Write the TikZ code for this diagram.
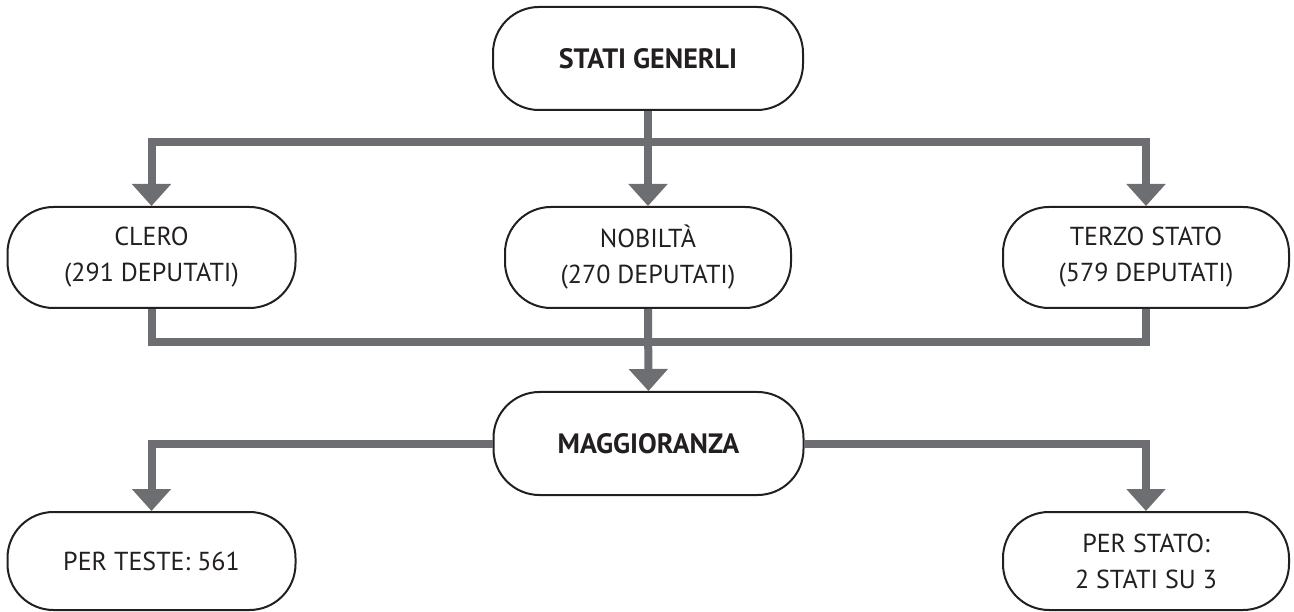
\documentclass[tikz,border=0pt]{standalone}
\usepackage{fontspec}
\setmainfont{PT Sans}
\usetikzlibrary{arrows.meta}
\definecolor{conn}{HTML}{6D6E71}
\definecolor{ink}{HTML}{231F20}
\begin{document}
\begin{tikzpicture}[x=1pt,y=-1pt,
  box/.style={draw=ink,line width=2pt,rounded corners=46pt,fill=white,
    minimum width=288pt,minimum height=101pt,align=center,text=ink,
    font=\fontsize{26}{36}\selectfont,inner sep=0pt},
  bigbox/.style={box,minimum width=310pt,minimum height=103pt,font=\fontsize{28}{36}\selectfont\bfseries},
  line/.style={draw=conn,line width=8pt,line join=miter},
  arr/.style={line,-{Triangle[width=38pt,length=22pt]}}]
\useasboundingbox (0,0) rectangle (1294,612);
\node[bigbox] (sg) at (648,58.5) {STATI GENERLI};
\node[box] (clero) at (151.5,257.5) {CLERO\\(291 DEPUTATI)};
\node[box,minimum width=286pt] (nob) at (648,257.5) {NOBILTÀ\\(270 DEPUTATI)};
\node[box,minimum width=286pt] (terzo) at (1146,257.5) {TERZO STATO\\(579 DEPUTATI)};
\node[bigbox] (magg) at (648.5,443.5) {MAGGIORANZA};
\node[box,minimum height=98pt] (teste) at (151.5,561) {PER TESTE: 561};
\node[box,minimum width=286pt,minimum height=98pt] (stato) at (1146,561) {PER STATO:\\2 STATI SU 3};
\coordinate (t) at (648,142);
\coordinate (m) at (648,342);
\draw[line] (sg.south) -- (t);
\draw[arr] (t) -| (clero.north);
\draw[arr] (t) -- (nob.north);
\draw[arr] (t) -| (terzo.north);
\draw[line] (clero.south) |- (m);
\draw[line] (terzo.south) |- (m);
\draw[arr] (nob.south) -- (magg.north);
\draw[arr] (magg.west) -| (teste.north);
\draw[arr] (magg.east) -| (stato.north);
\end{tikzpicture}
\end{document}
